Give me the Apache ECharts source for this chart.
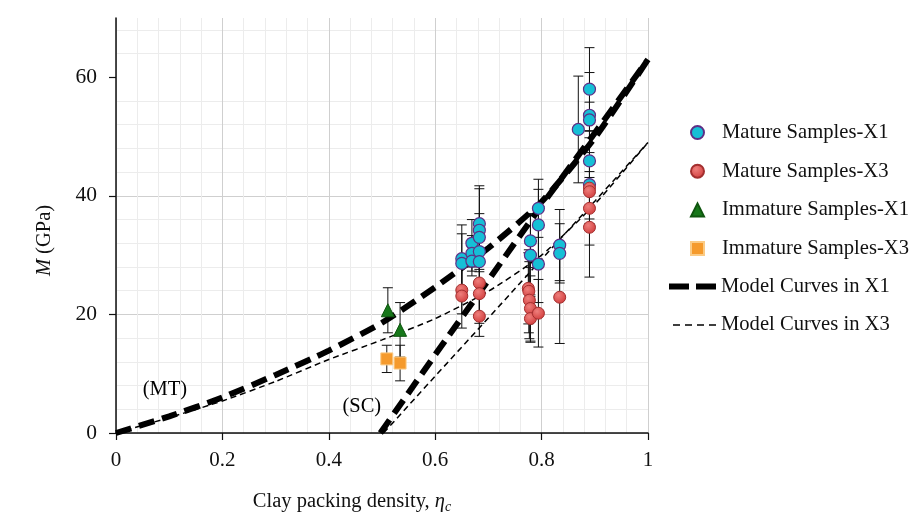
<!DOCTYPE html>
<html>
<head>
<meta charset="utf-8">
<script src="https://cdn.jsdelivr.net/npm/echarts@6/dist/echarts.min.js"></script>
<style>
  html, body { margin: 0; padding: 0; background: #fff; }
  #chart { width: 912px; height: 525px; }
</style>
</head>
<body>
<div id="chart"></div>
<script>
// [eta_c, M (GPa), error bar half length]
const matureX1 = [
  [0.650, 29.4, 5.7], [0.650, 28.6, 5.0],
  [0.669, 32.0, 4.0], [0.669, 30.3, 3.0], [0.669, 29.0, 2.5],
  [0.683, 35.3, 6.4], [0.683, 34.2, 7.0], [0.683, 33.0, 4.0], [0.683, 30.6, 3.0], [0.683, 28.9, 3.5],
  [0.779, 32.4, 4.5], [0.779, 30.0, 7.0],
  [0.794, 37.9, 4.9], [0.794, 35.1, 6.0], [0.794, 28.5, 6.5],
  [0.834, 31.7, 6.0], [0.834, 30.3, 5.0],
  [0.869, 51.2, 9.0],
  [0.890, 58.0, 7.0], [0.890, 53.6, 7.2], [0.890, 52.8, 3.0], [0.890, 45.9, 5.0], [0.890, 41.9, 4.0]
];
const matureX3 = [
  [0.650, 24.1, 4.0], [0.650, 23.1, 5.4],
  [0.683, 25.3, 6.0], [0.683, 23.5, 5.0], [0.683, 19.7, 3.4],
  [0.775, 24.4, 6.0], [0.776, 23.9, 7.0], [0.777, 22.4, 6.5], [0.779, 21.0, 5.5], [0.779, 19.3, 4.0],
  [0.794, 20.2, 5.7],
  [0.834, 22.9, 7.8],
  [0.890, 41.3, 6.0], [0.890, 40.7, 4.6], [0.890, 37.9, 6.2], [0.890, 34.7, 8.4]
];
const immatureX1 = [[0.511, 20.7, 3.8], [0.534, 17.4, 4.6]];
const immatureX3 = [[0.509, 12.5, 2.3], [0.534, 11.8, 3.0]];

// model curves [eta_c, M]
const x1MT = [[0, 0], [0.1, 2.8], [0.2, 6.0], [0.3, 9.8], [0.4, 13.9], [0.5, 18.6], [0.6, 24.6], [0.7, 31.2], [0.8, 39.0], [0.9, 49.8], [1, 63]];
const x1SC = [[0.497, 0], [0.6, 13.2], [0.7, 25.8], [0.8, 38.4], [0.9, 50.6], [1, 63]];
const x3MT = [[0, 0], [0.1, 2.6], [0.2, 5.4], [0.3, 8.7], [0.4, 12.4], [0.5, 15.7], [0.6, 19.3], [0.7, 23.9], [0.8, 30.0], [0.9, 38.6], [1, 49]];
const x3SC = [[0.503, 0], [0.6, 9.6], [0.7, 19.4], [0.8, 29.3], [0.9, 39.1], [1, 49]];

const notes = [[0.092, 7.3, '(MT)'], [0.462, 4.5, '(SC)']];
const yTicks = [0, 20, 40, 60];

const serif = 'Liberation Serif';
const chart = echarts.init(document.getElementById('chart'));

function errorBar(params, api) {
  const x = api.value(0), y = api.value(1), e = api.value(2);
  const hi = api.coord([x, y + e]);
  const lo = api.coord([x, y - e]);
  const w = 5;
  const st = { stroke: '#111', lineWidth: 1 };
  return {
    type: 'group',
    children: [
      { type: 'line', shape: { x1: hi[0], y1: hi[1], x2: lo[0], y2: lo[1] }, style: st },
      { type: 'line', shape: { x1: hi[0] - w, y1: hi[1], x2: hi[0] + w, y2: hi[1] }, style: st },
      { type: 'line', shape: { x1: lo[0] - w, y1: lo[1], x2: lo[0] + w, y2: lo[1] }, style: st }
    ]
  };
}

const allPoints = matureX1.concat(matureX3, immatureX1, immatureX3);

// dashed legend keys, drawn in a 47x14 box
const thickKey = 'path://M0,0M47,14M0,4h20v6h-20zM27,4h20v6h-20z';
const thinKey = 'path://M0,0M47,14M4,6.3h7v1.5h-7zM16,6.3h7v1.5h-7zM28,6.3h7v1.5h-7zM40,6.3h7v1.5h-7z';

chart.setOption({
  backgroundColor: '#fff',
  animation: false,
  textStyle: { fontFamily: serif },
  grid: { left: 116, right: 264, top: 18, bottom: 92 },
  legend: [
    {
      orient: 'vertical', left: 685, top: 117, itemWidth: 13, itemHeight: 13, itemGap: 17.7,
      textStyle: { fontFamily: serif, fontSize: 20.6, lineHeight: 20, color: '#111', padding: [0, 0, 0, 13] },
      data: ['Mature Samples-X1', 'Mature Samples-X3', 'Immature Samples-X1', 'Immature Samples-X3']
    },
    {
      orient: 'vertical', left: 664, top: 271, itemWidth: 47, itemHeight: 14, itemGap: 17.4,
      textStyle: { fontFamily: serif, fontSize: 20.6, lineHeight: 20, color: '#111' },
      data: [
        { name: 'Model Curves in X1', icon: thickKey },
        { name: 'Model Curves in X3', icon: thinKey }
      ]
    }
  ],
  xAxis: {
    type: 'value', min: 0, max: 1, interval: 0.2,
    name: '{a|Clay packing density, }{i|η}{s|c}',
    nameLocation: 'middle', nameGap: 57,
    nameTextStyle: {
      padding: [0, 60, 0, 0],
      rich: {
        a: { fontFamily: serif, fontSize: 20.5, color: '#111' },
        i: { fontFamily: serif, fontSize: 20.5, fontStyle: 'italic', color: '#111' },
        s: { fontFamily: serif, fontSize: 14, fontStyle: 'italic', color: '#111', padding: [10, 0, 0, 0] }
      }
    },
    axisLine: { show: true, lineStyle: { color: '#111', width: 1.5 } },
    axisTick: { show: true, length: 7, lineStyle: { color: '#111', width: 1.2 } },
    axisLabel: { fontFamily: serif, fontSize: 21, color: '#111', margin: 17 },
    splitLine: { show: true, lineStyle: { color: '#cfcfcf', width: 1 } },
    minorTick: { show: false, splitNumber: 5 },
    minorSplitLine: { show: true, lineStyle: { color: '#ececec', width: 1 } }
  },
  yAxis: {
    type: 'value', min: 0, max: 70, interval: 20,
    name: '{i|M} (GPa)',
    nameLocation: 'middle', nameGap: 61,
    nameTextStyle: {
      padding: [0, 30, 0, 0],
      rich: {
        i: { fontFamily: serif, fontSize: 20.5, fontStyle: 'italic', color: '#111' }
      },
      fontFamily: serif, fontSize: 20.5, color: '#111'
    },
    axisLine: { show: true, lineStyle: { color: '#111', width: 1.5 } },
    axisTick: { show: true, length: 7, customValues: yTicks, lineStyle: { color: '#111', width: 1.2 } },
    axisLabel: { fontFamily: serif, fontSize: 21.5, color: '#111', margin: 19, customValues: yTicks },
    splitLine: { show: true, showMaxLine: false, lineStyle: { color: '#cfcfcf', width: 1 } },
    minorTick: { show: false, splitNumber: 5 },
    minorSplitLine: { show: true, lineStyle: { color: '#ececec', width: 1 } }
  },
  series: [
    {
      type: 'custom', name: 'errors', renderItem: errorBar, z: 2,
      encode: { x: 0, y: 1 }, data: allPoints, silent: true
    },
    {
      type: 'line', name: 'Model Curves in X1', data: x1MT, symbol: 'none', smooth: 0.2, z: 3,
      color: '#000', lineStyle: { color: '#000', width: 6, type: [16, 8] }
    },
    {
      type: 'line', name: 'Model Curves in X1', data: x1SC, symbol: 'none', z: 3,
      color: '#000', lineStyle: { color: '#000', width: 6, type: [16, 8] }
    },
    {
      type: 'line', name: 'Model Curves in X3', data: x3MT, symbol: 'none', smooth: 0.2, z: 3,
      color: '#000', lineStyle: { color: '#000', width: 1.5, type: [6, 4] }
    },
    {
      type: 'line', name: 'Model Curves in X3', data: x3SC, symbol: 'none', z: 3,
      color: '#000', lineStyle: { color: '#000', width: 1.5, type: [6, 4] }
    },
    {
      type: 'scatter', name: 'Mature Samples-X1', data: matureX1, symbol: 'circle', symbolSize: 12, z: 5,
      itemStyle: { color: '#16bfd6', borderColor: '#5e2f86', borderWidth: 1.2, opacity: 1 }
    },
    {
      type: 'scatter', name: 'Mature Samples-X3', data: matureX3, symbol: 'circle', symbolSize: 12, z: 5,
      itemStyle: {
        color: new echarts.graphic.RadialGradient(0.4, 0.35, 0.7, [
          { offset: 0, color: '#ee7f7c' }, { offset: 1, color: '#d03a3a' }
        ]),
        borderColor: '#a32f2f', borderWidth: 1, opacity: 1
      }
    },
    {
      type: 'scatter', name: 'Immature Samples-X1', data: immatureX1, symbol: 'triangle', symbolSize: 13, z: 5,
      itemStyle: { color: '#17771a', borderColor: '#0f560f', borderWidth: 1, opacity: 1 }
    },
    {
      type: 'scatter', name: 'Immature Samples-X3', data: immatureX3, symbol: 'rect', symbolSize: 12, z: 5,
      itemStyle: { color: '#f59a2c', borderColor: '#fbcb85', borderWidth: 1, opacity: 1 }
    },
    {
      type: 'scatter', name: 'notes', data: notes, symbolSize: 0, z: 6, silent: true,
      itemStyle: { opacity: 1 },
      label: {
        show: true, position: 'inside', formatter: p => p.value[2],
        fontFamily: serif, fontSize: 20.5, color: '#000', opacity: 1
      }
    }
  ]
});
</script>
</body>
</html>
